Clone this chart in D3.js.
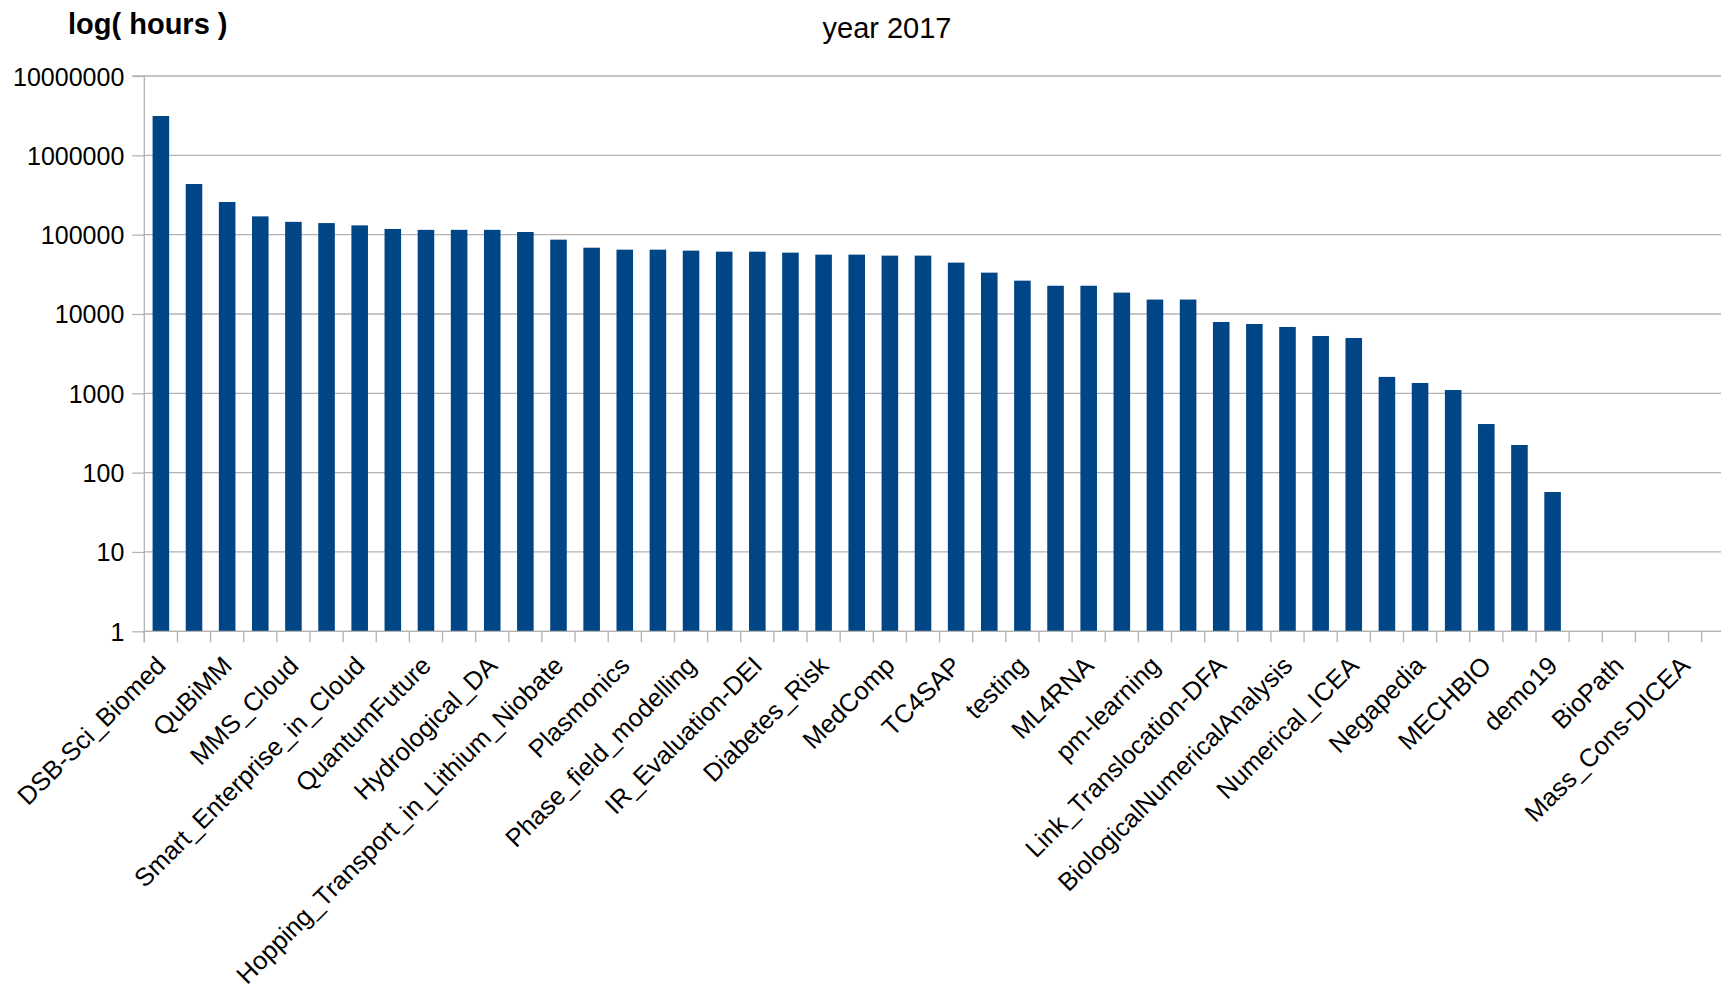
<!DOCTYPE html>
<html>
<head>
<meta charset="utf-8">
<script src="https://cdn.jsdelivr.net/npm/d3@7"></script>
<style>
  html, body { margin: 0; padding: 0; background: #fff; }
  svg { display: block; font-family: "Liberation Sans", Arial, sans-serif; }
</style>
</head>
<body>
<svg id="chart" width="1721" height="990"></svg>
<script>
// ---- data ----
const categories = [
  "DSB-Sci_Biomed", "project_02", "QuBiMM", "project_04", "MMS_Cloud", "project_06",
  "Smart_Enterprise_in_Cloud", "project_08", "QuantumFuture", "project_10", "Hydrological_DA", "project_12",
  "Hopping_Transport_in_Lithium_Niobate", "project_14", "Plasmonics", "project_16", "Phase_field_modelling", "project_18",
  "IR_Evaluation-DEI", "project_20", "Diabetes_Risk", "project_22", "MedComp", "project_24",
  "TC4SAP", "project_26", "testing", "project_28", "ML4RNA", "project_30",
  "pm-learning", "project_32", "Link_Translocation-DFA", "project_34", "BiologicalNumericalAnalysis", "project_36",
  "Numerical_ICEA", "project_38", "Negapedia", "project_40", "MECHBIO", "project_42",
  "demo19", "project_44", "BioPath", "project_46", "Mass_Cons-DICEA"
];
const hours = [
  3130000, 435000, 258000, 170000, 145000, 140000, 131000, 118000, 115000, 115000,
  115000, 108000, 86500, 68500, 64700, 64700, 62900, 61000, 61000, 59300,
  56000, 56000, 54400, 54400, 44400, 33200, 26300, 22700, 22700, 18600,
  15200, 15200, 7930, 7480, 6860, 5280, 4980, 1610, 1350, 1100,
  410, 223, 57, null, null, null, null
];
const yTicks = [1, 10, 100, 1000, 10000, 100000, 1000000, 10000000];
const titleText = "year 2017";
const yAxisTitle = "log( hours )";

// ---- layout ----
const W = 1721, H = 990;
const pLeft = 144.3, pRight = 1701.7, pTop = 76, pBottom = 631.3;
const svg = d3.select("#chart");

const x = d3.scaleBand().domain(categories).range([pLeft, pRight]).paddingInner(0.5).paddingOuter(0.25);
const y = d3.scaleLog().domain([1, 10000000]).range([pBottom, pTop]);

// gridlines
svg.append("g").selectAll("line").data(yTicks).join("line")
  .attr("x1", pLeft).attr("x2", W)
  .attr("y1", d => y(d)).attr("y2", d => y(d))
  .attr("stroke", "#b3b3b3").attr("stroke-width", 1.3);

// bars
svg.append("g").selectAll("rect").data(categories.map((c, i) => ({c, v: hours[i]})).filter(d => d.v != null))
  .join("rect")
  .attr("x", d => x(d.c))
  .attr("width", x.bandwidth())
  .attr("y", d => y(d.v))
  .attr("height", d => pBottom - y(d.v))
  .attr("fill", "#004586");

// y axis
const yAxis = d3.axisLeft(y).tickValues(yTicks).tickFormat(d3.format("d")).tickSize(12).tickPadding(8);
const gy = svg.append("g").attr("transform", `translate(${pLeft},0)`).call(yAxis);
gy.select(".domain").attr("stroke", "#b3b3b3").attr("stroke-width", 1.3).attr("d", `M-12,${pTop}H0V${pBottom + 11}`);
gy.selectAll(".tick line").attr("stroke", "#b3b3b3").attr("stroke-width", 1.3);
gy.selectAll(".tick text").attr("font-size", 25).attr("fill", "#000").attr("font-family", "Liberation Sans, Arial, sans-serif")
  .attr("dy", "0.36em");

// x axis
const boundaries = d3.range(categories.length + 1).map(i => pLeft + i * x.step());
svg.append("line").attr("x1", pLeft).attr("x2", W).attr("y1", pBottom).attr("y2", pBottom)
  .attr("stroke", "#b3b3b3").attr("stroke-width", 1.3);
svg.append("g").selectAll("line").data(boundaries).join("line")
  .attr("x1", d => d).attr("x2", d => d).attr("y1", pBottom).attr("y2", pBottom + 11)
  .attr("stroke", "#b3b3b3").attr("stroke-width", 1.3);

svg.append("g").selectAll("text").data(categories.filter((c, i) => i % 2 === 0)).join("text")
  .attr("transform", d => `translate(${x(d) + x.bandwidth() / 2 + 6.5},${pBottom + 36}) rotate(-45)`)
  .attr("text-anchor", "end")
  .attr("font-size", 25.5)
  .attr("fill", "#000")
  .text(d => d);

// titles
svg.append("text").attr("x", 887).attr("y", 38).attr("text-anchor", "middle")
  .attr("font-size", 29).attr("fill", "#000").text(titleText);
svg.append("text").attr("x", 68).attr("y", 34)
  .attr("font-size", 29).attr("font-weight", "bold").attr("fill", "#000").text(yAxisTitle);
</script>
</body>
</html>
